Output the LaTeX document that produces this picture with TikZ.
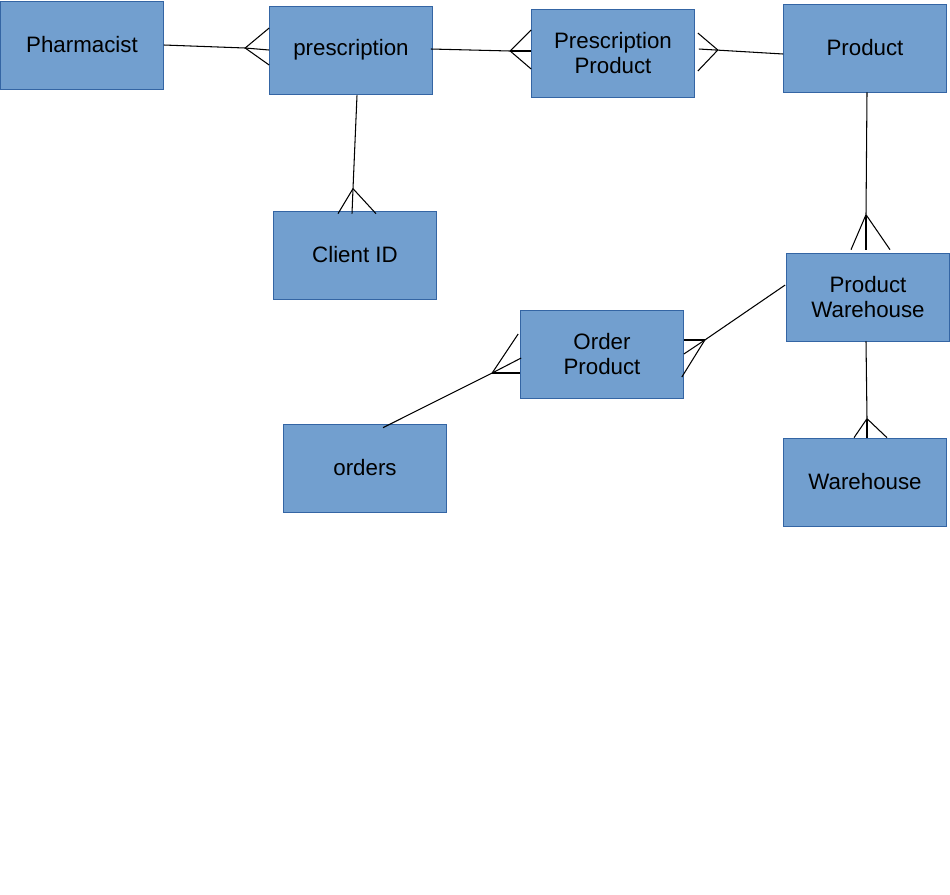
\documentclass[tikz,border=0pt]{standalone}
\usepackage{fontspec}
\setmainfont{Liberation Sans}
\usepackage{tikz}
\usetikzlibrary{calc}
\definecolor{Boxblue}{HTML}{729FCF}
\definecolor{Boxedge}{HTML}{3465A4}
\tikzstyle{entity} = [
    draw=Boxedge,
    fill=Boxblue,
    minimum width=3.26cm,
    minimum height=1.76cm,
    inner sep=0pt,
    align=center,
    font=\fontsize{12.7}{14.2}\selectfont
]
\tikzstyle{link} = [
    line width=0.6pt
]
\begin{document}
\begin{tikzpicture}[x=0.02cm, y=-0.02cm]
    \useasboundingbox (0,0) rectangle (950,894);
    % Entities
    \node[entity] (pharm) at (82,45) {Pharmacist};
    \node[entity] (presc) at (351,50) {prescription};
    \node[entity] (prescprod) at (613,53) {Prescription\\Product};
    \node[entity] (prod) at (865,48) {Product};
    \node[entity] (client) at (355,255) {Client ID};
    \node[entity] (prodware) at (868,297) {Product\\Warehouse};
    \node[entity] (ordprod) at (602,354) {Order\\Product};
    \node[entity] (orders) at (365,468) {orders};
    \node[entity] (ware) at (865,482) {Warehouse};
    % Pharmacist - prescription
    \coordinate (f1) at ($(presc.west)+(-24,-2)$);
    \draw[link] (pharm.east) -- (f1);
    \foreach \dy in {-22,0,15} \draw[link] (f1) -- ($(presc.west)+(0,\dy)$);
    % prescription - Prescription Product
    \coordinate (f2) at ($(prescprod.west)+(-21,-2)$);
    \draw[link] ($(presc.east)+(-2,-1)$) -- (f2);
    \foreach \dy in {-23,-2,16} \draw[link] (f2) -- ($(prescprod.west)+(0,\dy)$);
    % Prescription Product - Product
    \coordinate (f3) at ($(prescprod.east)+(23,-3)$);
    \draw[link] ($(prescprod.east)+(4,-4)$) -- ($(prod.west)+(0,6)$);
    \foreach \dy in {-20,18} \draw[link] (f3) -- ($(prescprod.east)+(3,\dy)$);
    % prescription - Client ID
    \coordinate (f4) at ($(client.north)+(-2,-22)$);
    \draw[link] ($(presc.south)+(6,1)$) -- (f4);
    \foreach \dx in {-17,-3,21} \draw[link] (f4) -- ($(client.north)+(\dx,3)$);
    % Product - Product Warehouse
    \coordinate (f5) at ($(prodware.north)+(-2,-38)$);
    \draw[link] ($(prod.south)+(2,0)$) -- (f5);
    \foreach \dx in {-17,-2,22} \draw[link] (f5) -- ($(prodware.north)+(\dx,-3)$);
    % Product Warehouse - Warehouse
    \coordinate (f6) at ($(ware.north)+(2,-19)$);
    \draw[link] ($(prodware.south)+(-2,0)$) -- (f6);
    \foreach \dx in {-11,2,22} \draw[link] (f6) -- ($(ware.north)+(\dx,0)$);
    % Product Warehouse - Order Product
    \coordinate (f7) at ($(ordprod.east)+(21,-14)$);
    \draw[link] ($(prodware.west)+(-1,-12)$) -- (f7);
    \draw[link] (f7) -- ($(ordprod.east)+(0,-14)$);
    \draw[link] (f7) -- (ordprod.east);
    \draw[link] (f7) -- ($(ordprod.east)+(-2,23)$);
    % orders - Order Product
    \coordinate (f8) at ($(ordprod.west)+(-28,19)$);
    \draw[link] ($(orders.north)+(18,4)$) -- (f8);
    \draw[link] (f8) -- ($(ordprod.west)+(-2,-20)$);
    \draw[link] (f8) -- ($(ordprod.west)+(1,4)$);
    \draw[link] (f8) -- ($(ordprod.west)+(0,19)$);
\end{tikzpicture}
\end{document}
